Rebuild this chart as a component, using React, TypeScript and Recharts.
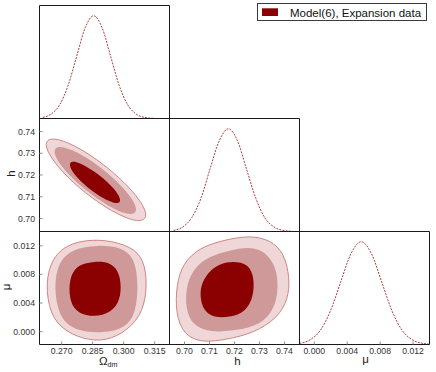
import React from 'react';
import { ComposedChart, XAxis, YAxis, Line, Scatter } from 'recharts';

const W = 436;
const H = 372;
const COLS = [39.5, 169.5, 299.5, 429.5];
const ROWS = [5.5, 118.5, 231.5, 344.5];

// ---------- axes ----------
const omegaDomain = [0.2593, 0.3222];
const hDomain = [0.694, 0.746];
const muDomain = [-0.0018, 0.014];
const densityDomain = [0, 1.1];

const omegaTicks = [0.27, 0.285, 0.3, 0.315];
const hTicks = [0.7, 0.71, 0.72, 0.73, 0.74];
const muTicks = [0, 0.004, 0.008, 0.012];

// ---------- 1D marginals ----------
const omegaGrid = [0.2609, 0.265, 0.2691, 0.2732, 0.2773, 0.2814, 0.2855, 0.2896, 0.2937, 0.2978, 0.3019, 0.306, 0.3101, 0.3142];
const omegaDensity = [0.011, 0.044, 0.135, 0.325, 0.607, 0.883, 1, 0.883, 0.607, 0.325, 0.135, 0.044, 0.011, 0.002];
const hGrid = [0.6956, 0.6993, 0.7029, 0.7066, 0.7102, 0.7139, 0.7175, 0.7212, 0.7248, 0.7285, 0.7321, 0.7358, 0.7394, 0.7431];
const hDensity = [0.011, 0.044, 0.135, 0.325, 0.607, 0.883, 1, 0.883, 0.607, 0.325, 0.135, 0.044, 0.011, 0.002];
const muGrid = [-0.0018, -0.00055, 0.0007, 0.00195, 0.0032, 0.00445, 0.0057, 0.00695, 0.0082, 0.00945, 0.0107, 0.01195, 0.0132, 0.0139];
const muDensity = [0.011, 0.044, 0.135, 0.325, 0.607, 0.883, 1, 0.883, 0.607, 0.325, 0.135, 0.044, 0.011, 0.005];

// ---------- 2D contours (x, y) ----------
const omegaH_outer = [[0.3112, 0.6992], [0.3053, 0.6985], [0.2944, 0.7031], [0.2814, 0.7115], [0.2698, 0.7217], [0.2627, 0.7308], [0.262, 0.7364], [0.2679, 0.737], [0.2788, 0.7325], [0.2918, 0.724], [0.3034, 0.7139], [0.3106, 0.7048]];
const omegaH_mid = [[0.3065, 0.7022], [0.3017, 0.7017], [0.2928, 0.7055], [0.2821, 0.7124], [0.2726, 0.7207], [0.2667, 0.7282], [0.2661, 0.7328], [0.2709, 0.7332], [0.2798, 0.7295], [0.2905, 0.7225], [0.3, 0.7142], [0.3059, 0.7068]];
const omegaH_inner = [[0.2986, 0.7072], [0.2956, 0.7068], [0.2901, 0.7092], [0.2835, 0.7134], [0.2777, 0.7185], [0.2741, 0.7231], [0.2737, 0.726], [0.2767, 0.7263], [0.2822, 0.7239], [0.2888, 0.7197], [0.2946, 0.7146], [0.2982, 0.71]];

const omegaMu_outer = [[0.285, 0.01298], [0.2976, 0.01251], [0.3076, 0.0112], [0.3111, 0.0085], [0.311, 0.00459], [0.3068, 0.00142], [0.2966, -0.00082], [0.2866, -0.00143], [0.2747, -0.0005], [0.2655, 0.0016], [0.2623, 0.00561], [0.2639, 0.00953], [0.2715, 0.01218]];
const omegaMu_mid = [[0.2874, 0.01214], [0.2992, 0.01181], [0.3055, 0.01023], [0.3071, 0.00654], [0.306, 0.00267], [0.301, 0.00048], [0.29, -0.00022], [0.2782, 0.00002], [0.2698, 0.00146], [0.2665, 0.00514], [0.2673, 0.00906], [0.2739, 0.01153]];
const omegaMu_inner = [[0.2858, 0.00985], [0.2944, 0.00967], [0.2982, 0.00808], [0.299, 0.00561], [0.2968, 0.00337], [0.29, 0.00216], [0.2816, 0.00216], [0.2755, 0.00314], [0.2734, 0.00538], [0.2742, 0.00785], [0.2781, 0.00939]];

const hMu_outer = [[0.7167, 0.01288], [0.7261, 0.01344], [0.7344, 0.01283], [0.74, 0.01092], [0.7421, 0.00747], [0.7415, 0.00459], [0.7373, 0.00193], [0.7277, -0.00022], [0.7167, -0.0011], [0.7072, -0.00157], [0.6995, -0.00045], [0.6964, 0.00272], [0.6968, 0.00659], [0.6993, 0.00953], [0.7061, 0.01181]];
const hMu_mid = [[0.718, 0.01134], [0.7261, 0.0119], [0.7324, 0.0112], [0.7367, 0.00901], [0.7376, 0.00608], [0.736, 0.00314], [0.7304, 0.00095], [0.7208, 0.00016], [0.7105, -0.00012], [0.7035, 0.00076], [0.7003, 0.00319], [0.7007, 0.00659], [0.7041, 0.00906], [0.7103, 0.0106]];
const hMu_inner = [[0.7193, 0.00985], [0.7257, 0.00948], [0.7279, 0.00752], [0.7276, 0.00486], [0.7244, 0.00272], [0.7181, 0.00202], [0.7119, 0.00193], [0.7076, 0.00291], [0.7061, 0.00491], [0.7068, 0.00687], [0.7103, 0.00864], [0.7145, 0.00953]];

const legendLabel = 'Model(6), Expansion data';

// ---------- styles ----------
const FONT = '"Liberation Sans", Arial, sans-serif';
const FRAME = '#1a1a1a';
const TICK = '#8c8c8c';
const LABEL = '#333333';
const DARK = '#8b0000';
const MID = '#d09999';
const LIGHT = '#efd7d7';
const EDGE = '#c66b6b';
const CURVE = '#b23a3a';

type AxisSpec = { domain: number[]; ticks: number[]; fmt: (v: number) => string };
const OMEGA: AxisSpec = { domain: omegaDomain, ticks: omegaTicks, fmt: (v) => v.toFixed(3) };
const HAX: AxisSpec = { domain: hDomain, ticks: hTicks, fmt: (v) => v.toFixed(2) };
const MU: AxisSpec = { domain: muDomain, ticks: muTicks, fmt: (v) => v.toFixed(3) };

const rows = (xs: number[], ys: number[]) => xs.map((x, i) => ({ x, y: ys[i] }));
const pts = (pairs: number[][]) => pairs.map(([x, y]) => ({ x, y }));
const noShape = () => <g />;

const contour = (key: string, pairs: number[][], fill: string, stroke: string) => (
  <Scatter
    key={key}
    xAxisId="b"
    yAxisId="l"
    data={pts(pairs)}
    isAnimationActive={false}
    line={{ fill, stroke, strokeWidth: stroke === 'none' ? 0 : 0.8 }}
    lineType="joint"
    lineJointType="basisClosed"
    shape={noShape}
    legendType="none"
  />
);

const curve = () => (
  <Line
    xAxisId="b"
    yAxisId="l"
    type="monotone"
    dataKey="y"
    stroke={CURVE}
    strokeWidth={1}
    strokeDasharray="2 1.2"
    dot={false}
    activeDot={false}
    isAnimationActive={false}
  />
);

type PanelProps = {
  col: number;
  row: number;
  xa: AxisSpec;
  ya?: AxisSpec;
  xLabels?: boolean;
  yLabels?: boolean;
  xTitle?: () => React.ReactNode;
  yTitle?: () => React.ReactNode;
  data?: any[];
  children: React.ReactNode;
};

function Panel({ col, row, xa, ya, xLabels, yLabels, xTitle, yTitle, data, children }: PanelProps) {
  const left = COLS[col];
  const right = COLS[col + 1];
  const top = ROWS[row];
  const bottom = ROWS[row + 1];
  const twoD = !!ya;
  const tickFont = { fill: LABEL, fontSize: 8.7, fontFamily: FONT };
  const inTick = { stroke: TICK, strokeWidth: 1 };
  const yDomain = ya ? ya.domain : densityDomain;
  const anchor = [{ x: xa.domain[0], y: yDomain[0] }];
  return (
    <div style={{ position: 'absolute', left: 0, top: 0, width: W, height: H }}>
      <ComposedChart width={W} height={H} data={data} margin={{ top: top - 1, right: W - right - 1, bottom: 0, left: 0 }}>
        <XAxis
          xAxisId="b"
          orientation="bottom"
          type="number"
          dataKey="x"
          domain={xa.domain}
          ticks={xa.ticks}
          interval={0}
          allowDataOverflow
          height={H - bottom}
          stroke={FRAME}
          axisLine={{ stroke: FRAME }}
          tickLine={inTick}
          tickSize={-3}
          tickMargin={6.5}
          tick={xLabels ? tickFont : false}
          tickFormatter={xa.fmt}
          label={xTitle ? { content: xTitle } : undefined}
        />
        <XAxis
          xAxisId="t"
          orientation="top"
          type="number"
          dataKey="x"
          domain={xa.domain}
          ticks={xa.ticks}
          interval={0}
          allowDataOverflow
          height={1}
          stroke={FRAME}
          axisLine={{ stroke: FRAME }}
          tickLine={twoD ? inTick : false}
          tickSize={-3}
          tick={false}
        />
        <YAxis
          yAxisId="l"
          orientation="left"
          type="number"
          dataKey="y"
          domain={yDomain}
          ticks={ya ? ya.ticks : undefined}
          interval={0}
          allowDataOverflow
          width={left}
          stroke={FRAME}
          axisLine={{ stroke: FRAME }}
          tickLine={twoD ? inTick : false}
          tickSize={-3}
          tickMargin={7.5}
          tick={yLabels ? tickFont : false}
          tickFormatter={ya ? ya.fmt : undefined}
          label={yTitle ? { content: yTitle } : undefined}
        />
        <YAxis
          yAxisId="r"
          orientation="right"
          type="number"
          dataKey="y"
          domain={yDomain}
          ticks={ya ? ya.ticks : undefined}
          interval={0}
          allowDataOverflow
          width={1}
          stroke={FRAME}
          axisLine={{ stroke: FRAME }}
          tickLine={twoD ? inTick : false}
          tickSize={-3}
          tick={false}
        />
        <Scatter xAxisId="t" yAxisId="r" data={anchor} shape={noShape} isAnimationActive={false} legendType="none" />
        {children}
      </ComposedChart>
    </div>
  );
}

const titleStyle = { fill: '#222', fontFamily: FONT, fontSize: 11.5 };

const omegaTitle = () => (
  <text x={99} y={365} style={titleStyle}>
    Ω<tspan fontSize={7.2} dy={2}>dm</tspan>
  </text>
);
const hTitleX = () => (
  <text x={237.5} y={364.5} textAnchor="middle" style={titleStyle}>h</text>
);
const muTitleX = () => (
  <text x={365.5} y={363} textAnchor="middle" style={titleStyle}>μ</text>
);
const hTitleY = () => (
  <text x={15} y={173.5} textAnchor="middle" transform="rotate(-90 15 173.5)" style={titleStyle}>h</text>
);
const muTitleY = () => (
  <text x={9.5} y={287} textAnchor="middle" transform="rotate(-90 9.5 287)" style={titleStyle}>μ</text>
);

export default function App() {
  return (
    <div style={{ position: 'absolute', left: 0, top: 0, width: W, height: H, background: '#fff', overflow: 'hidden' }}>
      {/* diagonal: Omega_dm */}
      <Panel col={0} row={0} xa={OMEGA} data={rows(omegaGrid, omegaDensity)}>
        {curve()}
      </Panel>
      {/* Omega_dm vs h */}
      <Panel col={0} row={1} xa={OMEGA} ya={HAX} yLabels yTitle={hTitleY}>
        {contour('a1', omegaH_outer, LIGHT, EDGE)}
        {contour('a2', omegaH_mid, MID, 'none')}
        {contour('a3', omegaH_inner, DARK, 'none')}
      </Panel>
      {/* diagonal: h */}
      <Panel col={1} row={1} xa={HAX} data={rows(hGrid, hDensity)}>
        {curve()}
      </Panel>
      {/* Omega_dm vs mu */}
      <Panel col={0} row={2} xa={OMEGA} ya={MU} xLabels yLabels xTitle={omegaTitle} yTitle={muTitleY}>
        {contour('b1', omegaMu_outer, LIGHT, EDGE)}
        {contour('b2', omegaMu_mid, MID, 'none')}
        {contour('b3', omegaMu_inner, DARK, 'none')}
      </Panel>
      {/* h vs mu */}
      <Panel col={1} row={2} xa={HAX} ya={MU} xLabels xTitle={hTitleX}>
        {contour('c1', hMu_outer, LIGHT, EDGE)}
        {contour('c2', hMu_mid, MID, 'none')}
        {contour('c3', hMu_inner, DARK, 'none')}
      </Panel>
      {/* diagonal: mu */}
      <Panel col={2} row={2} xa={MU} xLabels xTitle={muTitleX} data={rows(muGrid, muDensity)}>
        {curve()}
      </Panel>
      {/* legend */}
      <svg width={W} height={H} style={{ position: 'absolute', left: 0, top: 0, pointerEvents: 'none' }}>
        <rect x={257.5} y={3.5} width={169} height={17} fill="#fff" stroke="#3a3a3a" strokeWidth={1} />
        <rect x={262} y={8.3} width={16} height={7.7} fill={DARK} />
        <text x={290} y={16.7} fill="#111" fontFamily={FONT} fontSize={11.5}>{legendLabel}</text>
      </svg>
    </div>
  );
}
